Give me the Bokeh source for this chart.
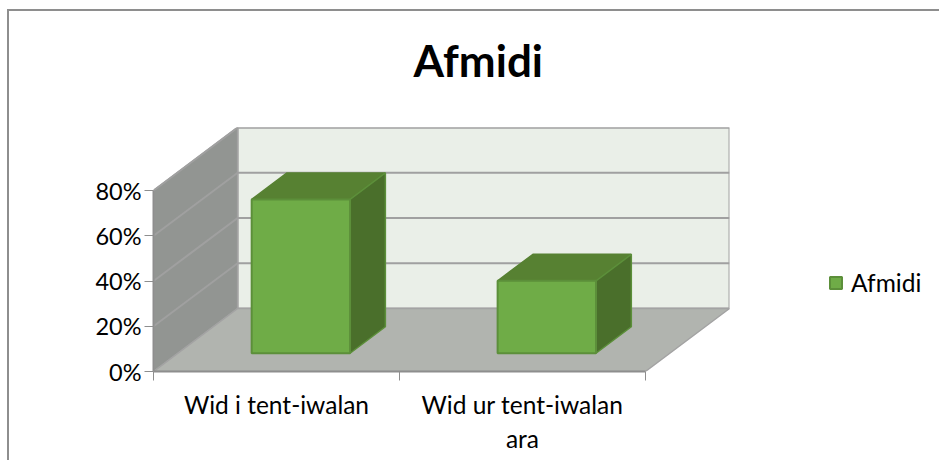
from bokeh.embed import file_html
from bokeh.resources import INLINE
from bokeh.plotting import figure
from bokeh.models import Range1d, FixedTicker, Legend, LegendItem, Title, InlineStyleSheet

title_text = "Afmidi"
series_name = "Afmidi"
categories = ["Wid i tent-iwalan", "Wid ur tent-iwalan\nara"]
values = [68, 32]
value_ticks = [0, 20, 40, 60, 80]
FONT = "Lato"

# Oblique projection of the 3D box: a depth of 1 moves a point by DX categories and DY percent
DX, DY = 0.342, 27.85
D0, D1 = 0.29, 0.71      # bar depth span
BAR_GAP = 0.3
BAR_W = 0.4
N = len(categories)
VMAX = value_ticks[-1]


def pj(c, v, d):
    return c + d * DX, v + d * DY


def poly(pts):
    xy = [pj(*q) for q in pts]
    return [a for a, _ in xy], [b for _, b in xy]


p = figure(width=931, height=471, frame_width=576, frame_height=244,
           output_backend="svg", toolbar_location=None,
           x_range=Range1d(0, N + DX), y_range=Range1d(0, VMAX + DY),
           min_border_left=153, min_border_top=138, min_border_bottom=89, min_border_right=202,
           background_fill_color="white", border_fill_color="white")
p.outline_line_color = None
p.grid.visible = False
p.styles = {"margin-top": "-11px"}
p.stylesheets = [InlineStyleSheet(css=""":host::before {
  content: ""; position: absolute; left: 7px; top: 20px; right: 0; bottom: 0; z-index: 10;
  border-left: 2px solid #8e8e8e; border-top: 2px solid #8e8e8e; pointer-events: none; }""")]

EDGE = "#a3a3a3"
# Walls and floor
x, y = poly([(0, 0, 1), (N, 0, 1), (N, VMAX, 1), (0, VMAX, 1)])
p.patch(x, y, fill_color="#eaefe8", line_color=EDGE, line_width=2)
x, y = poly([(0, 0, 0), (0, 0, 1), (0, VMAX, 1), (0, VMAX, 0)])
p.patch(x, y, fill_color="#929592", line_color=EDGE, line_width=1.5)
x, y = poly([(0, 0, 0), (N, 0, 0), (N, 0, 1), (0, 0, 1)])
p.patch(x, y, fill_color="#b1b4af", line_color=EDGE, line_width=1.5)

# Gridlines, running back along the side wall then across the back wall
for v in value_ticks[1:]:
    x, y = poly([(0, v, 0), (0, v, 1), (N, v, 1)])
    p.line(x, y, line_color="#a0a0a0", line_width=2)

FRONT, TOP, SIDE, BAR_EDGE = "#6fac47", "#578132", "#4a6f2b", "#5c8f3a"
front = None
for i, v in enumerate(values):
    a, b = i + BAR_GAP, i + BAR_GAP + BAR_W
    x, y = poly([(a, v, D0), (b, v, D0), (b, v, D1), (a, v, D1)])
    p.patch(x, y, fill_color=TOP, line_color=TOP, line_width=1.5)
    x, y = poly([(b, 0, D0), (b, 0, D1), (b, v, D1), (b, v, D0)])
    p.patch(x, y, fill_color=SIDE, line_color=BAR_EDGE, line_width=1.5)
    x, y = poly([(a, 0, D0), (b, 0, D0), (b, v, D0), (a, v, D0)])
    r = p.patch(x, y, fill_color=FRONT, line_color=BAR_EDGE, line_width=2)
    front = front or r

AX = "#8e8e8e"
yax = p.yaxis[0]
yax.ticker = FixedTicker(ticks=value_ticks)
yax.bounds = (0, VMAX)
yax.major_label_overrides = {t: f"{t}%" for t in value_ticks}
yax.minor_tick_line_color = None
yax.major_tick_in = 0
yax.major_tick_out = 9
yax.major_tick_line_color = AX
yax.axis_line_color = AX
yax.axis_line_width = 2
yax.major_label_text_font = FONT
yax.major_label_text_font_size = "23.5px"
yax.major_label_text_color = "#000000"
yax.major_label_standoff = 3

xax = p.xaxis[0]
xax.ticker = FixedTicker(ticks=[i + 0.5 for i in range(N)], minor_ticks=list(range(N + 1)))
xax.bounds = (0, N)
xax.major_label_overrides = {i + 0.5: c for i, c in enumerate(categories)}
xax.major_tick_line_color = None
xax.minor_tick_in = 0
xax.minor_tick_out = 9
xax.minor_tick_line_color = AX
xax.axis_line_color = AX
xax.axis_line_width = 2
xax.major_label_text_font = FONT
xax.major_label_text_font_size = "24.5px"
xax.major_label_text_color = "#000000"
xax.major_label_standoff = 9

p.title = Title(text=title_text, align="left", offset=260, text_font=FONT, text_font_style="bold",
                text_font_size="44px", text_color="#000000", standoff=84)

legend = Legend(items=[LegendItem(label=series_name, renderers=[front])], location=(99, 74),
                background_fill_alpha=0, border_line_color=None, padding=0, margin=0,
                glyph_width=15, glyph_height=15, label_standoff=8,
                label_text_font=FONT, label_text_font_size="24.5px", label_text_color="#000000")
p.add_layout(legend, "right")

open("out.html", "w").write(file_html(p, INLINE))
